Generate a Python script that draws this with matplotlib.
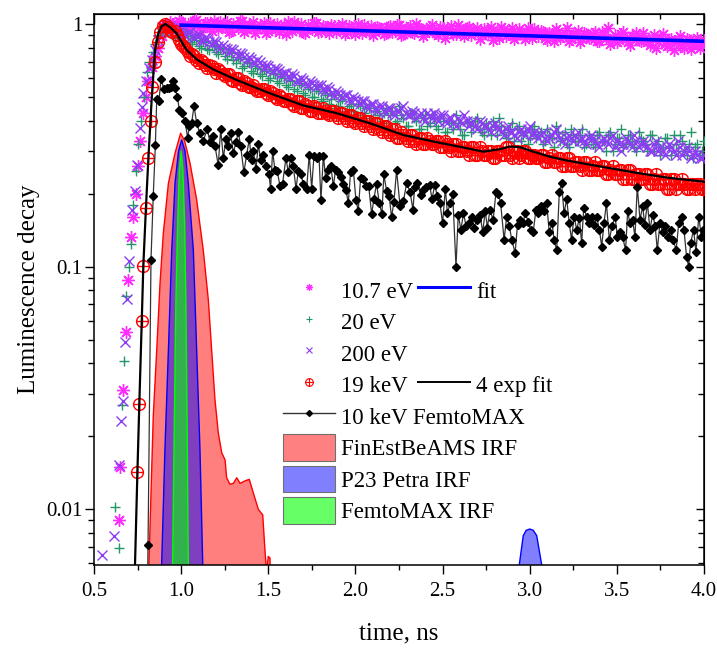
import numpy as np
import matplotlib
matplotlib.use("Agg")
import matplotlib.pyplot as plt
from matplotlib.path import Path
from matplotlib.lines import Line2D
from matplotlib.patches import Patch
from matplotlib.ticker import FixedLocator, MultipleLocator, LogLocator, NullFormatter, FuncFormatter

plt.rcParams['font.family'] = ['Liberation Serif', 'DejaVu Serif']

# regular time channels of the decay part (ns), two interleaved sets
t_decay = np.round(np.arange(0.95, 4.0001, 0.025), 4)
t_decay2 = np.round(np.arange(0.9625, 3.99, 0.025), 4)

# 10.7 eV
ev10_rise = [(0.645, 0.0090), (0.650, 0.0150), (0.668, 0.031), (0.682, 0.054), (0.697, 0.088),
             (0.712, 0.132), (0.725, 0.160), (0.739, 0.200), (0.752, 0.26), (0.766, 0.33),
             (0.783, 0.43), (0.797, 0.50), (0.812, 0.58), (0.830, 0.667), (0.850, 0.74),
             (0.869, 0.80), (0.888, 0.89), (0.900, 0.97), (0.912, 1.00), (0.925, 0.96), (0.937, 1.02)]
ev10_decay = [1.00, 0.97, 1.02, 0.95, 0.99, 1.03, 0.96, 0.98, 1.01, 0.94, 0.99, 1.02,
              0.97, 0.93, 1.00, 0.96, 1.03, 0.95, 0.98, 0.92, 0.99, 1.01, 0.94, 0.97,
              1.00, 0.95, 0.91, 0.98, 1.02, 0.96, 0.93, 0.99, 0.95, 1.01, 0.94, 0.97,
              0.92, 0.98, 0.95, 1.00, 0.93, 0.97, 0.91, 0.96, 0.99, 0.94, 0.90, 0.97,
              0.95, 0.92, 0.98, 0.94, 0.99, 0.91, 0.96, 0.93, 1.00, 0.95, 0.92, 0.97,
              0.94, 0.90, 0.96, 0.93, 0.98, 0.91, 0.95, 0.89, 0.97, 0.93, 0.96, 0.90,
              0.94, 0.97, 0.92, 0.88, 0.95, 0.91, 0.96, 0.90, 0.93, 0.87, 0.92, 0.95,
              0.89, 0.93, 0.86, 0.91, 0.95, 0.88, 0.92, 0.85, 0.90, 0.94, 0.87, 0.91,
              0.88, 0.93, 0.85, 0.90, 0.96, 0.87, 0.84, 0.91, 0.88, 0.82, 0.89, 0.86,
              0.92, 0.84, 0.87, 0.80, 0.88, 0.83, 0.86, 0.78, 0.85, 0.81, 0.87, 0.79,
              0.84, 0.80, 0.86]
ev10_decay2 = [0.98, 1.03, 0.94, 1.00, 0.96, 1.04, 0.93, 1.01, 0.97, 1.03, 0.95, 0.99,
               1.02, 0.94, 0.98, 1.03, 0.93, 0.99, 1.02, 0.95, 0.97, 0.92, 1.01, 0.96,
               0.93, 0.99, 1.02, 0.94, 0.97, 1.00, 0.92, 0.96, 1.01, 0.93, 0.98, 0.95,
               0.99, 0.93, 0.97, 0.91, 0.98, 0.95, 1.00, 0.92, 0.95, 0.98, 0.93, 0.96,
               0.91, 0.97, 0.93, 0.99, 0.90, 0.95, 0.98, 0.92, 0.96, 0.89, 0.94, 0.99,
               0.92, 0.97, 0.88, 0.95, 0.91, 0.99, 0.93, 0.96, 0.90, 0.94, 0.87, 0.95,
               0.91, 0.86, 0.94, 0.97, 0.89, 0.93, 0.87, 0.95, 0.91, 0.96, 0.88, 0.92,
               0.94, 0.88, 0.92, 0.85, 0.93, 0.89, 0.96, 0.87, 0.91, 0.84, 0.92, 0.88,
               0.91, 0.85, 0.93, 0.88, 0.83, 0.90, 0.86, 0.93, 0.84, 0.89, 0.92, 0.85,
               0.88, 0.82, 0.90, 0.85, 0.91, 0.81, 0.87, 0.84, 0.89, 0.80, 0.86, 0.83,
               0.88, 0.82]

# 20 eV
ev20_rise = [(0.619, 0.0102), (0.643, 0.0069), (0.661, 0.027), (0.670, 0.041), (0.685, 0.076),
             (0.699, 0.100), (0.710, 0.124), (0.725, 0.18), (0.739, 0.249), (0.755, 0.32),
             (0.770, 0.40), (0.785, 0.50), (0.802, 0.636), (0.818, 0.70), (0.836, 0.765),
             (0.852, 0.83), (0.870, 0.90), (0.888, 0.95), (0.907, 0.915), (0.925, 0.97), (0.940, 0.93)]
ev20_decay = [0.90, 0.93, 0.86, 0.91, 0.84, 0.88, 0.81, 0.85, 0.79, 0.82, 0.77, 0.80,
              0.74, 0.77, 0.71, 0.73, 0.66, 0.70, 0.64, 0.67, 0.62, 0.65, 0.59, 0.63,
              0.58, 0.61, 0.56, 0.59, 0.54, 0.57, 0.52, 0.55, 0.50, 0.54, 0.49, 0.52,
              0.47, 0.51, 0.46, 0.49, 0.44, 0.47, 0.42, 0.46, 0.43, 0.45, 0.41, 0.44,
              0.40, 0.45, 0.42, 0.39, 0.46, 0.41, 0.38, 0.43, 0.40, 0.37, 0.42, 0.39,
              0.41, 0.37, 0.40, 0.36, 0.39, 0.42, 0.37, 0.35, 0.40, 0.38, 0.41, 0.36,
              0.39, 0.35, 0.38, 0.41, 0.36, 0.34, 0.39, 0.37, 0.33, 0.36, 0.34, 0.38,
              0.35, 0.32, 0.37, 0.34, 0.38, 0.33, 0.36, 0.31, 0.35, 0.33, 0.37, 0.32,
              0.34, 0.31, 0.36, 0.33, 0.35, 0.30, 0.34, 0.37, 0.32, 0.35, 0.31, 0.36,
              0.33, 0.30, 0.35, 0.32, 0.29, 0.34, 0.31, 0.35, 0.30, 0.33, 0.29, 0.36,
              0.31, 0.29, 0.33]
ev20_decay2 = [0.88, 0.92, 0.85, 0.89, 0.83, 0.86, 0.80, 0.84, 0.78, 0.81, 0.75, 0.79,
               0.72, 0.76, 0.69, 0.72, 0.67, 0.69, 0.63, 0.66, 0.61, 0.64, 0.60, 0.62,
               0.57, 0.60, 0.55, 0.58, 0.53, 0.56, 0.51, 0.54, 0.50, 0.53, 0.48, 0.51,
               0.49, 0.45, 0.48, 0.43, 0.46, 0.44, 0.47, 0.42, 0.45, 0.41, 0.44, 0.42,
               0.43, 0.39, 0.44, 0.40, 0.42, 0.38, 0.43, 0.41, 0.37, 0.41, 0.38, 0.42,
               0.38, 0.41, 0.36, 0.40, 0.37, 0.39, 0.35, 0.39, 0.36, 0.40, 0.37, 0.35,
               0.37, 0.40, 0.35, 0.38, 0.34, 0.37, 0.33, 0.38, 0.35, 0.32, 0.37, 0.34,
               0.36, 0.33, 0.35, 0.31, 0.36, 0.34, 0.32, 0.37, 0.33, 0.35, 0.31, 0.35,
               0.32, 0.35, 0.33, 0.30, 0.36, 0.32, 0.34, 0.31, 0.35, 0.33, 0.30, 0.34,
               0.32, 0.35, 0.30, 0.33, 0.31, 0.34, 0.29, 0.32, 0.35, 0.30, 0.32, 0.28,
               0.32, 0.30]

# 200 eV
ev200_rise = [(0.548, 0.0065), (0.613, 0.0078), (0.643, 0.0152), (0.653, 0.0232), (0.666, 0.0279),
              (0.680, 0.0488), (0.691, 0.0738), (0.703, 0.106), (0.720, 0.172), (0.735, 0.206),
              (0.745, 0.263), (0.764, 0.372), (0.774, 0.457), (0.783, 0.52), (0.798, 0.58),
              (0.817, 0.657), (0.831, 0.711), (0.850, 0.78), (0.869, 0.86), (0.888, 0.975),
              (0.905, 0.99), (0.920, 0.96), (0.935, 0.98)]
ev200_decay = [0.96, 0.92, 0.95, 0.90, 0.93, 0.88, 0.90, 0.85, 0.87, 0.83, 0.84, 0.80,
               0.80, 0.77, 0.78, 0.74, 0.75, 0.71, 0.72, 0.69, 0.70, 0.66, 0.67, 0.64,
               0.65, 0.62, 0.63, 0.60, 0.61, 0.58, 0.59, 0.56, 0.57, 0.55, 0.56, 0.53,
               0.54, 0.51, 0.52, 0.50, 0.51, 0.48, 0.49, 0.47, 0.48, 0.45, 0.47, 0.44,
               0.46, 0.43, 0.45, 0.42, 0.44, 0.46, 0.42, 0.44, 0.41, 0.43, 0.40, 0.42,
               0.43, 0.40, 0.42, 0.39, 0.41, 0.38, 0.40, 0.42, 0.38, 0.40, 0.37, 0.39,
               0.38, 0.36, 0.39, 0.37, 0.35, 0.38, 0.36, 0.34, 0.37, 0.35, 0.38, 0.36,
               0.34, 0.36, 0.33, 0.35, 0.37, 0.34, 0.32, 0.35, 0.33, 0.36, 0.34, 0.32,
               0.35, 0.33, 0.31, 0.34, 0.32, 0.35, 0.33, 0.30, 0.34, 0.32, 0.35, 0.31,
               0.33, 0.31, 0.30, 0.33, 0.31, 0.29, 0.32, 0.30, 0.33, 0.29, 0.31, 0.28,
               0.30, 0.28, 0.29]
ev200_decay2 = [0.94, 0.93, 0.91, 0.92, 0.89, 0.90, 0.86, 0.88, 0.84, 0.85, 0.81, 0.82,
                0.79, 0.79, 0.76, 0.76, 0.73, 0.73, 0.70, 0.71, 0.68, 0.68, 0.65, 0.66,
                0.64, 0.63, 0.61, 0.62, 0.59, 0.60, 0.57, 0.58, 0.56, 0.56, 0.54, 0.55,
                0.52, 0.53, 0.51, 0.51, 0.49, 0.50, 0.48, 0.48, 0.46, 0.47, 0.45, 0.46,
                0.44, 0.45, 0.43, 0.44, 0.45, 0.43, 0.42, 0.43, 0.42, 0.41, 0.43, 0.41,
                0.41, 0.42, 0.40, 0.41, 0.39, 0.41, 0.39, 0.40, 0.39, 0.38, 0.40, 0.38,
                0.37, 0.38, 0.38, 0.36, 0.37, 0.36, 0.35, 0.36, 0.36, 0.37, 0.35, 0.35,
                0.35, 0.34, 0.34, 0.36, 0.35, 0.33, 0.34, 0.34, 0.35, 0.33, 0.33, 0.34,
                0.34, 0.32, 0.33, 0.33, 0.34, 0.31, 0.32, 0.32, 0.33, 0.31, 0.33, 0.32,
                0.32, 0.30, 0.32, 0.30, 0.30, 0.31, 0.31, 0.29, 0.31, 0.30, 0.30, 0.29,
                0.29, 0.28]

# 19 keV
kev19_rise = [(0.749, 0.0142), (0.760, 0.0272), (0.774, 0.0596), (0.783, 0.101), (0.798, 0.175),
              (0.812, 0.280), (0.825, 0.40), (0.835, 0.549), (0.852, 0.696), (0.865, 0.84),
              (0.880, 0.93), (0.895, 0.98), (0.910, 1.00), (0.925, 0.97), (0.940, 0.94)]
kev19_decay = [0.93, 0.90, 0.83, 0.80, 0.74, 0.74, 0.69, 0.70, 0.66, 0.67, 0.63, 0.64,
               0.61, 0.62, 0.58, 0.60, 0.56, 0.57, 0.55, 0.54, 0.53, 0.54, 0.51, 0.52,
               0.49, 0.50, 0.48, 0.49, 0.46, 0.48, 0.45, 0.46, 0.44, 0.45, 0.43, 0.44,
               0.42, 0.44, 0.41, 0.43, 0.40, 0.42, 0.39, 0.41, 0.38, 0.40, 0.37, 0.39,
               0.36, 0.38, 0.35, 0.37, 0.34, 0.35, 0.33, 0.35, 0.32, 0.34, 0.32, 0.33,
               0.32, 0.33, 0.31, 0.32, 0.30, 0.32, 0.30, 0.31, 0.29, 0.31, 0.29, 0.30,
               0.29, 0.30, 0.28, 0.30, 0.29, 0.31, 0.28, 0.30, 0.29, 0.30, 0.28, 0.29,
               0.28, 0.29, 0.27, 0.29, 0.27, 0.28, 0.26, 0.28, 0.26, 0.27, 0.25, 0.27,
               0.25, 0.27, 0.25, 0.26, 0.24, 0.26, 0.24, 0.25, 0.23, 0.25, 0.23, 0.24,
               0.23, 0.24, 0.22, 0.24, 0.22, 0.23, 0.21, 0.23, 0.22, 0.23, 0.21, 0.22,
               0.21, 0.22, 0.21]
kev19_decay2 = [0.94, 0.86, 0.81, 0.77, 0.75, 0.71, 0.71, 0.68, 0.68, 0.65, 0.65, 0.62,
                0.62, 0.59, 0.60, 0.57, 0.58, 0.55, 0.56, 0.53, 0.54, 0.52, 0.53, 0.50,
                0.51, 0.48, 0.49, 0.47, 0.48, 0.45, 0.47, 0.44, 0.46, 0.43, 0.45, 0.43,
                0.44, 0.42, 0.43, 0.41, 0.42, 0.40, 0.41, 0.39, 0.40, 0.38, 0.39, 0.37,
                0.38, 0.36, 0.37, 0.34, 0.36, 0.34, 0.35, 0.33, 0.34, 0.32, 0.34, 0.32,
                0.33, 0.31, 0.33, 0.31, 0.32, 0.30, 0.31, 0.30, 0.31, 0.29, 0.31, 0.29,
                0.30, 0.28, 0.30, 0.29, 0.31, 0.29, 0.30, 0.28, 0.30, 0.28, 0.29, 0.28,
                0.29, 0.27, 0.28, 0.27, 0.28, 0.26, 0.28, 0.26, 0.27, 0.26, 0.27, 0.25,
                0.26, 0.25, 0.26, 0.24, 0.25, 0.24, 0.25, 0.23, 0.25, 0.23, 0.24, 0.23,
                0.24, 0.22, 0.23, 0.22, 0.23, 0.21, 0.23, 0.21, 0.22, 0.22, 0.21, 0.22,
                0.22, 0.21]

# 10 keV FemtoMAX (time, value)
femto_pts = [(0.795, 0.001), (0.810, 0.0071), (0.827, 0.107), (0.840, 0.196), (0.852, 0.316),
             (0.860, 0.490), (0.873, 0.484), (0.884, 0.592), (0.902, 0.540), (0.917, 0.547),
             (0.930, 0.547), (0.941, 0.549), (0.951, 0.583), (0.965, 0.546), (0.978, 0.50),
             (0.990, 0.443), (1.003, 0.43), (1.022, 0.40), (1.037, 0.34), (1.047, 0.38),
             (1.060, 0.39), (1.074, 0.46), (1.089, 0.39), (1.108, 0.355), (1.127, 0.33),
             (1.150, 0.37), (1.165, 0.325), (1.181, 0.345), (1.194, 0.315), (1.213, 0.262),
             (1.227, 0.37), (1.242, 0.28), (1.257, 0.335), (1.271, 0.315), (1.284, 0.355),
             (1.299, 0.295), (1.315, 0.325), (1.328, 0.36), (1.341, 0.315), (1.360, 0.245),
             (1.376, 0.29), (1.391, 0.335), (1.404, 0.275), (1.414, 0.30), (1.429, 0.252),
             (1.443, 0.32), (1.456, 0.275), (1.471, 0.29), (1.487, 0.26), (1.504, 0.24),
             (1.513, 0.21), (1.525, 0.30), (1.538, 0.25), (1.552, 0.247), (1.567, 0.215),
             (1.582, 0.22), (1.601, 0.28), (1.615, 0.245), (1.628, 0.28), (1.643, 0.26),
             (1.659, 0.21), (1.672, 0.247), (1.687, 0.24), (1.701, 0.22), (1.720, 0.21),
             (1.735, 0.29), (1.749, 0.21), (1.762, 0.287), (1.777, 0.28), (1.791, 0.287),
             (1.802, 0.188), (1.816, 0.287), (1.829, 0.233), (1.844, 0.25), (1.859, 0.26),
             (1.873, 0.215), (1.886, 0.25), (1.902, 0.245), (1.915, 0.235), (1.930, 0.22),
             (1.946, 0.207), (1.959, 0.183), (1.972, 0.245), (1.988, 0.25), (2.003, 0.188),
             (2.016, 0.17), (2.030, 0.233), (2.045, 0.23), (2.060, 0.215), (2.076, 0.215),
             (2.093, 0.165), (2.106, 0.19), (2.121, 0.22), (2.137, 0.183), (2.152, 0.165),
             (2.163, 0.24), (2.179, 0.205), (2.194, 0.195), (2.207, 0.16), (2.221, 0.185),
             (2.236, 0.25), (2.256, 0.178), (2.275, 0.186), (2.294, 0.221), (2.313, 0.204),
             (2.330, 0.172), (2.340, 0.214), (2.355, 0.221), (2.375, 0.197), (2.390, 0.207),
             (2.405, 0.214), (2.425, 0.218), (2.440, 0.190), (2.455, 0.218), (2.470, 0.195),
             (2.485, 0.183), (2.500, 0.151), (2.516, 0.210), (2.528, 0.166), (2.543, 0.183),
             (2.558, 0.200), (2.577, 0.100), (2.590, 0.164), (2.605, 0.142), (2.620, 0.166),
             (2.635, 0.147), (2.650, 0.151), (2.667, 0.161), (2.680, 0.145), (2.696, 0.156),
             (2.715, 0.164), (2.730, 0.139), (2.745, 0.169), (2.757, 0.145), (2.772, 0.172),
             (2.790, 0.156), (2.807, 0.204), (2.820, 0.200), (2.833, 0.183), (2.853, 0.129),
             (2.868, 0.161), (2.883, 0.147), (2.897, 0.129), (2.916, 0.114), (2.930, 0.149),
             (2.945, 0.156), (2.960, 0.151), (2.975, 0.166), (2.992, 0.153), (3.005, 0.142),
             (3.020, 0.139), (3.036, 0.172), (3.050, 0.166), (3.067, 0.178), (3.082, 0.169),
             (3.097, 0.183), (3.112, 0.139), (3.128, 0.151), (3.140, 0.129), (3.155, 0.117),
             (3.170, 0.204), (3.183, 0.221), (3.197, 0.166), (3.212, 0.190), (3.227, 0.151),
             (3.240, 0.129), (3.254, 0.161), (3.270, 0.142), (3.285, 0.159), (3.298, 0.125),
             (3.310, 0.175), (3.327, 0.161), (3.342, 0.151), (3.356, 0.161), (3.370, 0.149),
             (3.384, 0.161), (3.400, 0.142), (3.413, 0.121), (3.426, 0.151), (3.440, 0.183),
             (3.457, 0.129), (3.472, 0.147), (3.490, 0.161), (3.503, 0.133), (3.518, 0.139),
             (3.533, 0.133), (3.550, 0.117), (3.562, 0.169), (3.575, 0.151), (3.590, 0.156),
             (3.604, 0.133), (3.617, 0.214), (3.633, 0.156), (3.648, 0.178), (3.660, 0.149),
             (3.675, 0.183), (3.690, 0.142), (3.705, 0.164), (3.720, 0.147), (3.732, 0.117),
             (3.747, 0.151), (3.763, 0.139), (3.778, 0.147), (3.793, 0.133), (3.808, 0.142),
             (3.824, 0.129), (3.840, 0.117), (3.855, 0.151), (3.872, 0.161), (3.885, 0.142),
             (3.900, 0.110), (3.912, 0.100), (3.923, 0.125), (3.940, 0.142), (3.954, 0.115),
             (3.970, 0.161), (3.985, 0.133), (3.996, 0.142)]

# fits
fit10_t = [1.0, 1.5, 2.0, 2.5, 3.0, 3.5, 4.0]
fit10_y = [0.99, 0.965, 0.941, 0.917, 0.894, 0.871, 0.849]
fit19_t = [0.728, 0.735, 0.749, 0.760, 0.774, 0.783, 0.798, 0.812, 0.831, 0.850, 0.869, 0.888,
           0.910, 0.940, 0.974, 1.000, 1.032, 1.089, 1.185, 1.319, 1.510, 1.700, 1.893, 2.083,
           2.275, 2.447, 2.638, 2.733, 2.829, 2.887, 2.944, 3.020, 3.116, 3.212, 3.403, 3.594,
           3.786, 4.000]
fit19_y = [0.004, 0.0058, 0.0142, 0.0272, 0.0596, 0.101, 0.175, 0.28, 0.49, 0.78, 0.915, 0.98,
           1.00, 0.965, 0.915, 0.85, 0.782, 0.715, 0.650, 0.588, 0.518, 0.462, 0.429, 0.390,
           0.349, 0.328, 0.308, 0.298, 0.305, 0.313, 0.311, 0.298, 0.284, 0.274, 0.259, 0.245,
           0.233, 0.224]

# instrument response functions
irf_fin_t = [0.50, 0.800, 0.815, 0.840, 0.860, 0.879, 0.898, 0.927, 0.965, 0.997, 1.020, 1.051,
             1.089, 1.127, 1.156, 1.175, 1.194, 1.213, 1.233, 1.252, 1.261, 1.280, 1.300, 1.319,
             1.338, 1.366, 1.391, 1.414, 1.443, 1.468, 1.481, 1.490, 1.500, 1.510, 1.520, 4.0]
irf_fin_y = [0, 0, 0.0059, 0.0242, 0.0455, 0.0858, 0.138, 0.221, 0.294, 0.355, 0.33, 0.267,
             0.189, 0.117, 0.073, 0.0455, 0.0284, 0.0207, 0.0171, 0.016, 0.0135, 0.0127, 0.0128,
             0.0135, 0.0128, 0.0131, 0.0133, 0.0117, 0.0100, 0.0095, 0.0068, 0.0055, 0.0064,
             0.0063, 0, 0]
irf_p23_t = [0.50, 0.880, 0.888, 0.907, 0.927, 0.946, 0.965, 0.985, 1.003, 1.022, 1.041, 1.070,
             1.089, 1.108, 1.124, 1.130, 2.935, 2.940, 2.963, 2.980, 3.001, 3.020, 3.040, 3.069,
             3.075, 4.0]
irf_p23_y = [0, 0, 0.0059, 0.0177, 0.0455, 0.117, 0.221, 0.30, 0.333, 0.30, 0.221, 0.117,
             0.0455, 0.0177, 0.0059, 0, 0, 0.0059, 0.0078, 0.0082, 0.0083, 0.0082, 0.0078, 0.0059,
             0, 0]
irf_fmx_t = [0.50, 0.945, 0.951, 0.960, 0.970, 0.980, 0.990, 1.000, 1.010, 1.020, 1.027, 1.035,
             1.041, 1.047, 4.0]
irf_fmx_y = [0, 0, 0.0059, 0.02, 0.073, 0.15, 0.25, 0.30, 0.25, 0.15, 0.073, 0.02, 0.0059, 0, 0]

mag = '#FF2BFF'
grn = '#23966A'
pur = '#8C3CF2'

circ = Path.unit_circle()
cross = Path([[-1, 0], [1, 0], [0, -1], [0, 1]],
             [Path.MOVETO, Path.LINETO, Path.MOVETO, Path.LINETO])
oplus = Path.make_compound_path(circ, cross)
star8 = (8, 2, 0)

fig = plt.figure(figsize=(7.17, 6.49), dpi=100)
ax = fig.add_axes([94 / 717, 1 - 565 / 649, 610 / 717, 551 / 649])
ax.set_yscale('log')

floor = 1e-4
ax.fill_between(irf_fin_t, np.maximum(irf_fin_y, floor), floor,
                facecolor=(1, 0, 0, 0.5), edgecolor='red', lw=1.0, zorder=1)
ax.fill_between(irf_p23_t, np.maximum(irf_p23_y, floor), floor,
                facecolor=(0, 0, 1, 0.5), edgecolor='blue', lw=1.0, zorder=1.1)
ax.fill_between(irf_fmx_t, np.maximum(irf_fmx_y, floor), floor,
                facecolor=(0, 1, 0, 0.6), edgecolor='#00FF00', lw=1.0, zorder=1.2)


def series(rise, decay, decay2):
    t = [p[0] for p in rise] + list(t_decay) + list(t_decay2)
    y = [p[1] for p in rise] + list(decay) + list(decay2)
    return t, y


t, y = series(ev10_rise, ev10_decay, ev10_decay2)
ax.plot(t, y, ls='none', marker=star8, ms=9, mew=1.0, color=mag, zorder=3)
t, y = series(ev20_rise, ev20_decay, ev20_decay2)
ax.plot(t, y, ls='none', marker='+', ms=7.5, mew=1.0, color=grn, zorder=3.1)
t, y = series(ev200_rise, ev200_decay, ev200_decay2)
ax.plot(t, y, ls='none', marker='x', ms=7, mew=1.0, color=pur, zorder=3.2)
t, y = series(kev19_rise, kev19_decay, kev19_decay2)
ax.plot(t, y, ls='none', marker=oplus, ms=8.5, mew=1.0, color='red', mfc='none', zorder=3.3)

ft = [p[0] for p in femto_pts]
fy = [p[1] for p in femto_pts]
ax.plot(ft, fy, color='#333333', lw=0.9, marker='D', ms=3.6, mfc='black', mec='black', zorder=3.4)

ax.plot(fit10_t, fit10_y, color='blue', lw=2.6, zorder=4)
ax.plot(fit19_t, fit19_y, color='black', lw=1.6, zorder=4.1)

ax.set_xlim(0.5, 4.0)
ax.set_ylim(0.0059, 1.1)

ax.xaxis.set_major_locator(MultipleLocator(0.5))
ax.xaxis.set_minor_locator(MultipleLocator(0.25))
ax.xaxis.set_major_formatter(FuncFormatter(lambda v, p: '%.1f' % v))
ax.yaxis.set_major_locator(FixedLocator([0.01, 0.1, 1]))
ax.yaxis.set_major_formatter(FuncFormatter(lambda v, p: '%g' % v))
ax.yaxis.set_minor_locator(LogLocator(base=10, subs=np.arange(2, 10)))
ax.yaxis.set_minor_formatter(NullFormatter())
ax.tick_params(axis='both', which='both', direction='out', top=False, right=False, width=1.0,
               labelsize=15)
ax.tick_params(axis='y', which='major', length=6.5, pad=2)
ax.tick_params(axis='y', which='minor', length=4)
ax.tick_params(axis='x', which='major', length=6.5, pad=6)
ax.tick_params(axis='x', which='minor', length=3.6)
for s in ax.spines.values():
    s.set_linewidth(1.1)

top = ax.secondary_xaxis('top')
top.xaxis.set_major_locator(MultipleLocator(0.5))
top.xaxis.set_minor_locator(MultipleLocator(0.25))
top.tick_params(which='major', direction='in', length=7, width=1.0, labeltop=False)
top.tick_params(which='minor', direction='in', length=3.5, width=1.0)
right = ax.secondary_yaxis('right')
right.yaxis.set_major_locator(FixedLocator([0.01, 0.1, 1]))
right.yaxis.set_minor_locator(LogLocator(base=10, subs=np.arange(2, 10)))
right.tick_params(which='major', direction='in', length=6, width=1.0, labelright=False)
right.tick_params(which='minor', direction='in', length=4, width=1.0)
right.yaxis.set_minor_formatter(NullFormatter())

ax.set_xlabel('time, ns', fontsize=18)
ax.set_ylabel('Luminescence decay', fontsize=18)
ax.xaxis.set_label_coords(0.5, -0.105)
ax.yaxis.set_label_coords(-0.088, 0.5)

leg_kw = dict(loc='upper left', bbox_transform=fig.transFigure, frameon=False, borderpad=0,
              borderaxespad=0, handlelength=2.25, handleheight=1.41, handletextpad=0.29,
              labelspacing=0.21, prop=dict(family='Liberation Serif', size=16.5))
handles1 = [
    Line2D([], [], ls='none', marker=star8, color=mag, ms=5, mew=0.8),
    Line2D([], [], ls='none', marker='+', color=grn, ms=5, mew=0.8),
    Line2D([], [], ls='none', marker='x', color=pur, ms=4.5, mew=0.8),
    Line2D([], [], ls='none', marker=oplus, color='red', mfc='none', ms=5.5, mew=0.8),
    Line2D([], [], color='#333333', lw=1.0, marker='D', ms=3, mfc='black', mec='black'),
    Patch(facecolor='#FF8080', edgecolor='#707070', lw=0.8),
    Patch(facecolor='#8080FF', edgecolor='#707070', lw=0.8),
    Patch(facecolor='#66FF66', edgecolor='#707070', lw=0.8),
]
labels1 = ['10.7 eV', '20 eV', '200 eV', '19 keV', '10 keV FemtoMAX',
           'FinEstBeAMS IRF', 'P23 Petra IRF', 'FemtoMAX IRF']
leg1 = ax.legend(handles1, labels1, bbox_to_anchor=(283 / 717, 1 - 277 / 649), **leg_kw)
ax.add_artist(leg1)

blank = Line2D([], [], ls='none')
handles2 = [Line2D([], [], color='blue', lw=2.2), blank, blank, Line2D([], [], color='black', lw=1.4)]
ax.legend(handles2, ['fit', ' ', ' ', '4 exp fit'], bbox_to_anchor=(418 / 717, 1 - 277 / 649), **leg_kw)

fig.savefig('out.png', dpi=100)
